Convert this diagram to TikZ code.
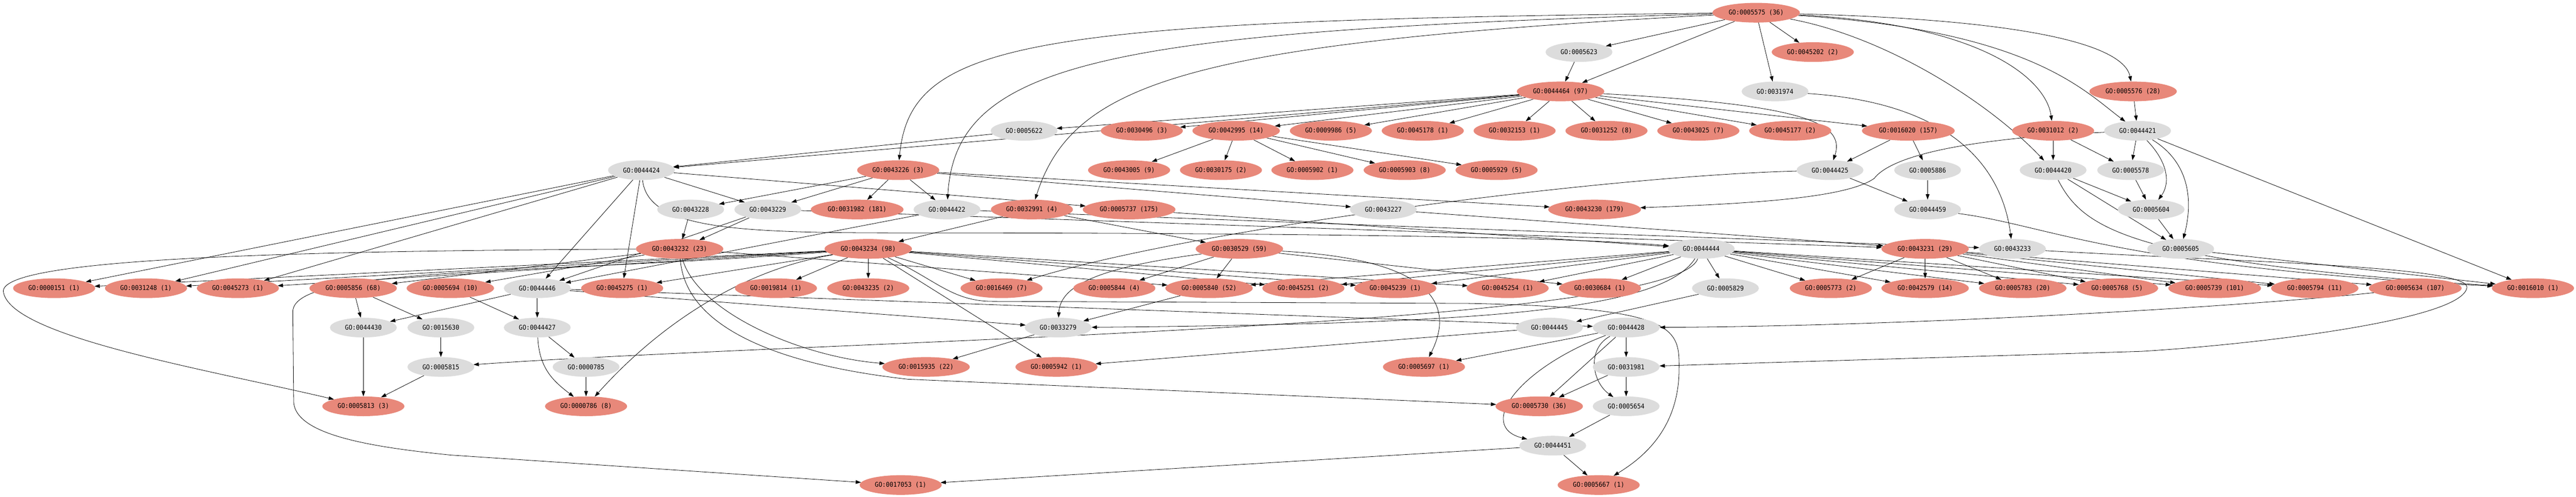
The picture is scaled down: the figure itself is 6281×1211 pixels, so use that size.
\documentclass[tikz,border=0pt]{standalone}
\usepackage{fontspec}
\newfontfamily\gofont[FakeStretch=0.93]{DejaVu Sans Mono}
\usetikzlibrary{shapes.geometric,arrows.meta,backgrounds}
\definecolor{gored}{HTML}{E8887A}
\definecolor{gogray}{HTML}{DCDCDC}
\tikzset{
 gonode/.style={ellipse, inner sep=0pt, minimum height=48pt, text=black, font=\gofont\fontsize{16pt}{18pt}\selectfont},
 gor1/.style={gonode, fill=gored, minimum width=200pt},
 gor2/.style={gonode, fill=gored, minimum width=213pt},
 gor3/.style={gonode, fill=gored, minimum width=226pt},
 gog/.style={gonode, fill=gogray, minimum width=163pt},
 edge/.style={draw=black, line width=1pt, -{Triangle[length=13pt,width=9pt]}},
}
\begin{document}
\begin{tikzpicture}[x=1pt,y=-1pt]
\useasboundingbox (0,0) rectangle (6281,1211);
% rank 0
\node[gor2] (n5575) at (4282,31) {GO:0005575 (36)};
% rank 1
\node[gog] (n5623) at (3850,127) {GO:0005623};
\node[gor1] (n45202) at (4420,127) {GO:0045202 (2)};
% rank 2
\node[gor2] (n44464) at (3805,223) {GO:0044464 (97)};
\node[gog] (n31974) at (4328,223) {GO:0031974};
\node[gor2] (n5576) at (5201,223) {GO:0005576 (28)};
% rank 3
\node[gog] (n5622) at (2497,319) {GO:0005622};
\node[gor1] (n30496) at (2784,319) {GO:0030496 (3)};
\node[gor2] (n42995) at (3014,319) {GO:0042995 (14)};
\node[gor1] (n9986) at (3245,319) {GO:0009986 (5)};
\node[gor1] (n45178) at (3469,319) {GO:0045178 (1)};
\node[gor1] (n32153) at (3693,319) {GO:0032153 (1)};
\node[gor1] (n31252) at (3917,319) {GO:0031252 (8)};
\node[gor1] (n43025) at (4141,319) {GO:0043025 (7)};
\node[gor1] (n45177) at (4365,319) {GO:0045177 (2)};
\node[gor3] (n16020) at (4653,319) {GO:0016020 (157)};
\node[gor1] (n31012) at (5006,319) {GO:0031012 (2)};
\node[gog] (n44421) at (5212,319) {GO:0044421};
% rank 4
\node[gog] (n44424) at (1564,415) {GO:0044424};
\node[gor1] (n43226) at (2190,415) {GO:0043226 (3)};
\node[gor1] (n43005) at (2753,415) {GO:0043005 (9)};
\node[gor1] (n30175) at (2977,415) {GO:0030175 (2)};
\node[gor1] (n5902) at (3200,415) {GO:0005902 (1)};
\node[gor1] (n5903) at (3425,415) {GO:0005903 (8)};
\node[gor1] (n5929) at (3649,415) {GO:0005929 (5)};
\node[gog] (n44425) at (4462,415) {GO:0044425};
\node[gog] (n5886) at (4700,415) {GO:0005886};
\node[gog] (n44420) at (5006,415) {GO:0044420};
\node[gog] (n5578) at (5195,415) {GO:0005578};
% rank 5
\node[gog] (n43228) at (1684,511) {GO:0043228};
\node[gog] (n43229) at (1872,511) {GO:0043229};
\node[gor3] (n31982) at (2090,511) {GO:0031982 (181)};
\node[gog] (n44422) at (2309,511) {GO:0044422};
\node[gor1] (n32991) at (2516,511) {GO:0032991 (4)};
\node[gor3] (n5737) at (2753,511) {GO:0005737 (175)};
\node[gog] (n43227) at (3373,511) {GO:0043227};
\node[gor3] (n43230) at (3888,511) {GO:0043230 (179)};
\node[gog] (n44459) at (4700,511) {GO:0044459};
\node[gog] (n5604) at (5245,511) {GO:0005604};
% rank 6
\node[gor2] (n43232) at (1657,607) {GO:0043232 (23)};
\node[gor2] (n43234) at (2117,607) {GO:0043234 (98)};
\node[gor2] (n30529) at (3022,607) {GO:0030529 (59)};
\node[gog] (n44444) at (4148,607) {GO:0044444};
\node[gor2] (n43231) at (4694,607) {GO:0043231 (29)};
\node[gog] (n43233) at (4907,607) {GO:0043233};
\node[gog] (n5605) at (5317,607) {GO:0005605};
% rank 7
\node[gor1] (n151) at (132,703) {GO:0000151 (1)};
\node[gor1] (n31248) at (356,703) {GO:0031248 (1)};
\node[gor1] (n45273) at (580,703) {GO:0045273 (1)};
\node[gor2] (n5856) at (861,703) {GO:0005856 (68)};
\node[gor2] (n5694) at (1098,703) {GO:0005694 (10)};
\node[gog] (n44446) at (1310,703) {GO:0044446};
\node[gor1] (n45275) at (1517,703) {GO:0045275 (1)};
\node[gor1] (n19814) at (1892,703) {GO:0019814 (1)};
\node[gor1] (n43235) at (2117,703) {GO:0043235 (2)};
\node[gor1] (n16469) at (2442,703) {GO:0016469 (7)};
\node[gor1] (n5844) at (2717,703) {GO:0005844 (4)};
\node[gor2] (n5840) at (2948,703) {GO:0005840 (52)};
\node[gor1] (n45251) at (3178,703) {GO:0045251 (2)};
\node[gor1] (n45239) at (3402,703) {GO:0045239 (1)};
\node[gor1] (n45254) at (3676,703) {GO:0045254 (1)};
\node[gor1] (n30684) at (3901,703) {GO:0030684 (1)};
\node[gog] (n5829) at (4207,703) {GO:0005829};
\node[gor1] (n5773) at (4464,703) {GO:0005773 (2)};
\node[gor2] (n42579) at (4694,703) {GO:0042579 (14)};
\node[gor2] (n5783) at (4932,703) {GO:0005783 (20)};
\node[gor1] (n5768) at (5162,703) {GO:0005768 (5)};
\node[gor3] (n5739) at (5400,703) {GO:0005739 (101)};
\node[gor2] (n5794) at (5644,703) {GO:0005794 (11)};
\node[gor3] (n5634) at (5889,703) {GO:0005634 (107)};
\node[gor1] (n16010) at (6176,703) {GO:0016010 (1)};
% rank 8
\node[gog] (n44430) at (886,799) {GO:0044430};
\node[gog] (n15630) at (1075,799) {GO:0015630};
\node[gog] (n44427) at (1310,799) {GO:0044427};
\node[gog] (n33279) at (2580,799) {GO:0033279};
\node[gog] (n44445) at (3778,799) {GO:0044445};
\node[gog] (n44428) at (3965,799) {GO:0044428};
% rank 9
\node[gog] (n5815) at (1075,895) {GO:0005815};
\node[gog] (n785) at (1429,895) {GO:0000785};
\node[gor2] (n15935) at (2258,895) {GO:0015935 (22)};
\node[gor1] (n5942) at (2576,895) {GO:0005942 (1)};
\node[gor1] (n5697) at (3472,895) {GO:0005697 (1)};
\node[gog] (n31981) at (3965,895) {GO:0031981};
% rank 10
\node[gor1] (n5813) at (886,991) {GO:0005813 (3)};
\node[gor1] (n786) at (1429,991) {GO:0000786 (8)};
\node[gor2] (n5730) at (3753,991) {GO:0005730 (36)};
\node[gog] (n5654) at (3965,991) {GO:0005654};
% rank 11
\node[gog] (n44451) at (3786,1087) {GO:0044451};
% rank 12
\node[gor1] (n17053) at (2196,1183) {GO:0017053 (1)};
\node[gor1] (n5667) at (3898,1183) {GO:0005667 (1)};

\begin{pgfonlayer}{background}
\fill[white] (0,0) rectangle (6281,1211);
\foreach \a/\b in {5575/5623,5575/45202,5575/44464,5623/44464,5575/31974,5576/44421,
 44464/5622,44464/30496,44464/42995,44464/9986,44464/45178,44464/32153,44464/31252,44464/43025,44464/45177,44464/16020,
 44464/44424,5622/44424,42995/43005,42995/30175,42995/5902,42995/5903,42995/5929,
 16020/44425,16020/5886,31012/44420,44421/5578,31012/5578,
 43226/43228,43226/43229,44424/43229,43226/31982,43226/44422,43226/43227,43226/43230,44424/5737,
 5886/44459,44425/44459,44420/5604,5578/5604,
 43228/43232,43229/43232,32991/43234,32991/30529,5737/44444,43227/43231,43229/43231,44422/43233,5604/5605,44420/5605,
 44424/151,44424/31248,44424/45273,44424/45275,44424/44446,
 43234/151,43234/31248,43234/45273,43234/45275,43234/19814,43234/43235,43234/16469,43234/45251,43234/45239,43234/45254,
 43232/5856,43232/5694,43232/5840,43229/44446,44422/44446,
 30529/5844,30529/5840,30529/30684,
 44444/5840,44444/45251,44444/45239,44444/45254,44444/30684,44444/5829,44444/5773,44444/42579,44444/5783,44444/5768,44444/5739,44444/5794,
 43231/5773,43231/42579,43231/5783,43231/5768,43231/5739,43231/5794,43231/5634,
 44421/16010,5605/16010,
 5856/44430,5856/15630,44446/44430,5694/44427,44446/44427,5840/33279,44446/33279,5829/44445,44446/44428,
 15630/5815,44427/785,33279/15935,43234/5942,44445/5942,44428/5697,44428/31981,
 44430/5813,5815/5813,785/786,44428/5730,31981/5730,31981/5654,5654/44451,44451/5667,44451/17053}
 {\draw[edge] (n\a) -- (n\b);}
\draw[edge] (n5575) .. controls (4600,90) and (4850,250) .. (n44420);
\draw[edge] (n5575) .. controls (5000,50) and (5180,120) .. (n5576);
\draw[edge] (n5575) .. controls (4850,60) and (4990,200) .. (n31012);
\draw[edge] (n5575) .. controls (4950,75) and (5080,220) .. (n44421);
\draw[edge] (n5575) .. controls (2500,50) and (2220,100) .. (n43226);
\draw[edge] (n5575) .. controls (2700,75) and (2330,150) .. (n44422);
\draw[edge] (n5575) .. controls (2900,105) and (2616,200) .. (n32991);
\draw[edge] (n44464) .. controls (4400,255) and (4500,300) .. (n44425);
\draw[edge] (n44421) .. controls (4850,335) and (4620,370) .. (4570,435) .. controls (4500,485) and (4250,497) .. (n43230);
\draw[edge] (n44421) .. controls (5290,400) and (5290,450) .. (n5604);
\draw[edge] (n44421) .. controls (5345,400) and (5345,500) .. (n5605);
\draw[edge] (n31974) .. controls (4750,250) and (4880,400) .. (n43233);
\draw[edge] (n44425) .. controls (3900,430) and (2900,560) .. (n16469);
\draw[edge] (n44424) .. controls (1580,560) and (1800,568) .. (2200,568) .. controls (3000,568) and (3800,575) .. (n44444);
\draw[edge] (n44459) .. controls (5000,550) and (5150,650) .. (n16010);
\draw[edge] (n44420) .. controls (5080,560) and (5200,640) .. (n16010);
\draw[edge] (n30529) .. controls (2700,650) and (2585,690) .. (n33279);
\draw[edge] (n30529) .. controls (3450,630) and (3560,720) .. (n5697);
\draw[edge] (n44444) .. controls (4050,760) and (3600,790) .. (n33279);
\draw[edge] (n44444) .. controls (4080,800) and (2000,830) .. (n5815);
\draw[edge] (n5634) .. controls (5500,745) and (4700,795) .. (n44428);
\draw[edge] (n43233) .. controls (5500,640) and (6010,650) .. (6015,700) .. controls (6010,780) and (5500,840) .. (5221,857) -- (n31981);
\draw[edge] (n43232) .. controls (1700,760) and (1950,870) .. (n15935);
\draw[edge] (n43232) .. controls (1670,800) and (1900,890) .. (2214,925) -- (n5730);
\draw[edge] (n43232) .. controls (700,612) and (10,630) .. (8,710) .. controls (20,820) and (500,900) .. (n5813);
\draw[edge] (n43234) .. controls (1800,660) and (1600,800) .. (n786);
\draw[edge] (n43234) .. controls (1300,670) and (715,650) .. (714,760) -- (716,980) .. controls (720,1060) and (900,1090) .. (1100,1110) -- (n17053);
\draw[edge] (n43234) .. controls (2280,680) and (2320,735) .. (2420,735) -- (3580,740) .. controls (4090,750) and (4095,800) .. (4094,900) .. controls (4094,1050) and (4000,1120) .. (n5667);
\draw[edge] (n44428) .. controls (3700,900) and (3600,1040) .. (n44451);
\draw[edge] (n44428) .. controls (3870,850) and (3880,930) .. (n5654);
\draw[edge] (n44427) .. controls (1315,900) and (1350,930) .. (n786);
\end{pgfonlayer}
\end{tikzpicture}
\end{document}
